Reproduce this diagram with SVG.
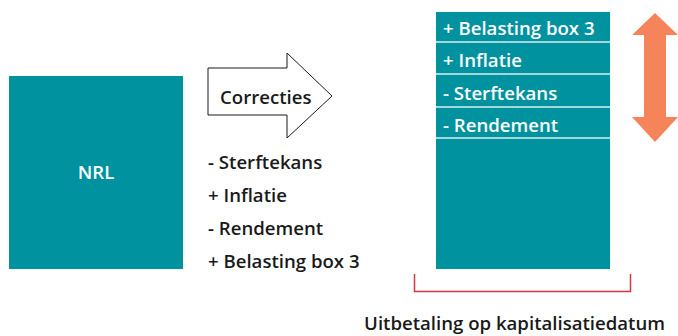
<svg xmlns="http://www.w3.org/2000/svg" width="678" height="336" viewBox="0 0 678 336">
<style>
.t{font-family:"Open Sans","Noto Sans",sans-serif;font-weight:600;font-size:18.6px}
.w{fill:#fff}
.k{fill:#1a1a1a}
.teal{fill:#00929e}
.sep{stroke:#d8eef0;stroke-width:1.5}
</style>
<rect width="678" height="336" fill="#fff"/>
<g id="nrl">
<rect class="teal" x="9" y="76" width="174" height="193"/>
<text class="t w" x="96" y="179" text-anchor="middle" font-size="17">NRL</text>
</g>
<g id="correcties">
<path d="M208,68 H287 V53 L332,96 L287,138 V115 H208 Z" fill="#fff" stroke="#1a1a1a" stroke-width="1"/>
<text class="t k" x="220" y="104" font-size="18">Correcties</text>
</g>
<g id="list-left">
<text class="t k" x="208" y="169">- Sterftekans</text>
<text class="t k" x="208" y="202">+ Inflatie</text>
<text class="t k" x="208" y="235">- Rendement</text>
<text class="t k" x="208" y="268">+ Belasting box 3</text>
</g>
<g id="column">
<rect class="teal" x="436" y="12" width="174" height="257"/>
<line class="sep" x1="436" y1="42" x2="610" y2="42"/>
<line class="sep" x1="436" y1="74" x2="610" y2="74"/>
<line class="sep" x1="436" y1="107" x2="610" y2="107"/>
<line class="sep" x1="436" y1="138" x2="610" y2="138"/>
<text class="t w" x="443" y="35">+ Belasting box 3</text>
<text class="t w" x="443" y="67">+ Inflatie</text>
<text class="t w" x="443" y="100">- Sterftekans</text>
<text class="t w" x="443" y="132">- Rendement</text>
</g>
<g id="range-arrow">
<path d="M655,13 L678,35 H666 V117 H678 L655,142 L632,117 H644 V35 H632 Z" fill="#f5845a"/>
</g>
<g id="connectors">
<path d="M414.5,274 V291.5 H630.5 V274" fill="none" stroke="#d8343f" stroke-width="1.5"/>
</g>
<g id="label-bottom">
<text class="t k" x="665" y="330" text-anchor="end">Uitbetaling op kapitalisatiedatum</text>
</g>
</svg>
